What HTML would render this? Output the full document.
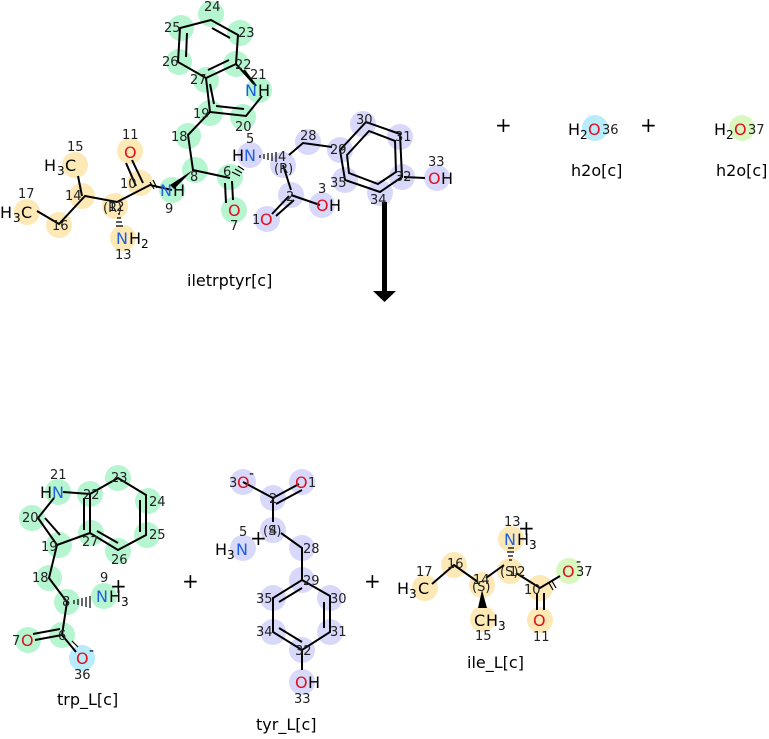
<!DOCTYPE html>
<html><head><meta charset="utf-8"><style>
body{margin:0;background:#fff;width:769px;height:734px;overflow:hidden}
svg{font-family:"DejaVu Sans","Liberation Sans",sans-serif}
.a{font-size:16px}.n{font-size:13px;fill:#222}.l{font-size:16px}
.b{stroke:#000;stroke-width:2;fill:none}
.O{fill:#e0101e}.N{fill:#2060e0}
</style></head><body>
<svg width="769" height="734" viewBox="0 0 769 734">
<g stroke="none">
<g fill="#b5f5d0">
<circle cx="211" cy="14" r="13"/><circle cx="240" cy="33" r="13"/><circle cx="236" cy="64" r="13"/><circle cx="259" cy="90" r="13"/><circle cx="243" cy="117" r="13"/><circle cx="210" cy="113" r="13"/><circle cx="206" cy="80" r="13"/><circle cx="179" cy="62" r="13"/><circle cx="181" cy="28" r="13"/><circle cx="188" cy="136" r="13"/><circle cx="195" cy="170" r="13"/><circle cx="230" cy="177" r="13"/><circle cx="234" cy="210" r="13"/><circle cx="172" cy="190" r="13"/>
</g>
<g fill="#fde9b5">
<circle cx="130" cy="151" r="13"/><circle cx="140" cy="183" r="13"/><circle cx="115" cy="206" r="13"/><circle cx="123" cy="238" r="13"/><circle cx="82" cy="196" r="13"/><circle cx="75" cy="165" r="13"/><circle cx="59" cy="225" r="13"/><circle cx="27" cy="212" r="13"/>
</g>
<g fill="#d8d8fb">
<circle cx="250" cy="155" r="13"/><circle cx="283" cy="165" r="13"/><circle cx="308" cy="142" r="13"/><circle cx="340" cy="150" r="13"/><circle cx="363" cy="124" r="13"/><circle cx="400" cy="137" r="13"/><circle cx="402" cy="177" r="13"/><circle cx="380" cy="193" r="13"/><circle cx="345" cy="180" r="13"/><circle cx="437" cy="178" r="13"/><circle cx="291" cy="195" r="13"/><circle cx="267" cy="219" r="13"/><circle cx="322" cy="205" r="13"/>
</g>
<circle cx="595" cy="128" r="13" fill="#b8ecfb"/><circle cx="742" cy="128" r="13" fill="#d8f8c0"/>
<g fill="#b5f5d0">
<circle cx="58" cy="492" r="13"/><circle cx="90" cy="494" r="13"/><circle cx="118" cy="478" r="13"/><circle cx="148" cy="501" r="13"/><circle cx="147" cy="535" r="13"/><circle cx="118" cy="551" r="13"/><circle cx="91" cy="533" r="13"/><circle cx="32" cy="518" r="13"/><circle cx="59" cy="545" r="13"/><circle cx="49" cy="578" r="13"/><circle cx="67" cy="602" r="13"/><circle cx="104" cy="596" r="13"/><circle cx="62" cy="635" r="13"/><circle cx="28" cy="640" r="13"/>
</g>
<circle cx="82" cy="658" r="13" fill="#b8ecfb"/>
<g fill="#d8d8fb">
<circle cx="243" cy="482" r="13"/><circle cx="302" cy="482" r="13"/><circle cx="273" cy="498" r="13"/><circle cx="273" cy="530" r="13"/><circle cx="243" cy="548" r="13"/><circle cx="302" cy="548" r="13"/><circle cx="302" cy="580" r="13"/><circle cx="330" cy="598" r="13"/><circle cx="330" cy="632" r="13"/><circle cx="302" cy="650" r="13"/><circle cx="273" cy="632" r="13"/><circle cx="273" cy="598" r="13"/><circle cx="302" cy="682" r="13"/>
</g>
<g fill="#fde9b5">
<circle cx="511" cy="539" r="13"/><circle cx="510" cy="571" r="13"/><circle cx="482" cy="585" r="13"/><circle cx="483" cy="619" r="13"/><circle cx="454" cy="565" r="13"/><circle cx="425" cy="588" r="13"/><circle cx="540" cy="588" r="13"/><circle cx="540" cy="620" r="13"/>
</g>
<circle cx="569" cy="571" r="13" fill="#d8f8c0"/>
</g>
<g class="b">
<path d="M211 20 L238 35 L236 64 L206 78 L178 62 L180 28 Z"/>
<path d="M212 28 L230 38 M229 60 L208 70 M186 57 L187 33"/>
<path d="M236 64 L254 84 M244 70 L256 86 M262 96 L246 116 L210 112 L206 78 M214 104 L210 84 M244 109 L216 106"/>
<path d="M210 112 L188 135 L193 170 L230 178 M232 181 L233 200 M225 183 L226 203"/>
<path d="M172 190 L150 185 L117 202 L85 196 L59 224 L37 211 M82 196 L78 176 M143 183 L132 160 M136 186 L126 163"/>
<path d="M283 165 L291 190 M291 195 L320 205 M289 196 L272 214 M294 200 L276 216 M289 155 L303 143 L332 147"/>
<path d="M340 150 L366 122 L400 134 L402 177 L380 192 L345 180 Z M347 155 L369 131 L395 141 L396 172 L378 184 L349 173 Z M404 177 L425 178"/>
</g>
<polygon points="193,170 170,185 174,189" fill="#000"/>
<g stroke="#000" stroke-width="1.2">
<path d="M232 172 L240 176 M235 169 L242 173 M238 166 L244 170 M260 155 L260 158 M264 154 L264 159 M268 153 L268 160 M272 153 L272 161 M276 152 L276 162 M118 214 L120 214 M117 218 L121 218 M116 222 L122 222 M116 226 L123 226 M150 182 L154 189 M153 180 L157 188"/>
</g>
<rect x="382" y="202" width="5" height="90" fill="#000"/>
<polygon points="373,291 396,291 384.5,302" fill="#000"/>
<g class="b">
<path d="M118 478 L146 495 L146 535 L118 550 L90 533 L90 494 Z M104 486 L118 478 M140 500 L140 532 M118 543 L97 531 M84 498 L84 530"/>
<path d="M63 492 L90 494 M54 498 L38 518 L57 545 L90 533 M45 518 L60 535 M57 545 L49 578 L67 602 L62 635 L35 640 M60 629 L33 634 M62 635 L76 652"/>
<path d="M243 482 L273 498 L273 522 M273 498 L299 484 M276 504 L302 490 M281 533 L302 548 L302 580"/>
<path d="M302 580 L330 596 L330 632 L302 650 L273 632 L273 598 Z M324 602 L324 628 M302 642 L279 628 M279 602 L302 588 M302 650 L302 670"/>
<path d="M504 565 L486 578 M478 582 L454 565 L432 584 M516 573 L540 588 L560 576 M537 593 L537 610 M544 593 L544 610"/>
</g>
<polygon points="482,590 478,608 487,608" fill="#000"/>
<g stroke="#000" stroke-width="1.2"><path d="M74 600 L74 604 M78 599 L78 605 M82 598 L82 606 M86 597 L86 607 M90 596 L90 608 M508 548 L514 548 M507 552 L514 552 M508 556 L513 556 M509 560 L512 560 M549 583 L553 590 M552 581 L556 588 M69 644 L75 650 M72 641 L78 647"/></g>
<g class="a">
<text x="160" y="196" class="N">N</text><text x="173" y="196">H</text>
<text x="245" y="96" class="N">N</text><text x="258" y="96">H</text>
<text x="124" y="158" class="O">O</text><text x="228" y="216" class="O">O</text>
<text x="44" y="171">H</text><text x="57" y="175" font-size="12">3</text><text x="65" y="171">C</text>
<text x="0" y="218">H</text><text x="13" y="222" font-size="12">3</text><text x="21" y="218">C</text>
<text x="116" y="244" class="N" fill="#4a5cc0">N</text><text x="129" y="244">H</text><text x="141" y="248" font-size="12">2</text>
<text x="232" y="161">H</text><text x="244" y="161" class="N">N</text>
<text x="260" y="225" class="O">O</text><text x="316" y="211" class="O">O</text><text x="329" y="211">H</text>
<text x="428" y="184" class="O">O</text><text x="441" y="184">H</text>
<text x="568" y="135">H</text><text x="580" y="139" font-size="12">2</text><text x="588" y="135" class="O">O</text>
<text x="714" y="135">H</text><text x="726" y="139" font-size="12">2</text><text x="734" y="135" class="O">O</text>
<text x="40" y="498">H</text><text x="52" y="498" class="N">N</text>
<text x="96" y="602" class="N">N</text><text x="109" y="602">H</text><text x="121" y="606" font-size="12">3</text>
<text x="21" y="646" class="O">O</text><text x="76" y="664" class="O">O</text>
<text x="237" y="488" class="O">O</text><text x="295" y="488" class="O">O</text>
<text x="215" y="555">H</text><text x="227" y="559" font-size="12">3</text><text x="236" y="555" class="N">N</text>
<text x="295" y="688" class="O">O</text><text x="308" y="688">H</text>
<text x="504" y="545" class="N" fill="#4a5cc0">N</text><text x="517" y="545">H</text><text x="529" y="549" font-size="12">3</text>
<text x="397" y="594">H</text><text x="409" y="598" font-size="12">3</text><text x="418" y="594">C</text>
<text x="474" y="626">C</text><text x="486" y="626">H</text><text x="498" y="630" font-size="12">3</text>
<text x="533" y="626" class="O">O</text><text x="562" y="577" class="O">O</text>
</g>
<g font-size="20"><text x="495" y="132">+</text><text x="640" y="132">+</text><text x="182" y="588">+</text><text x="364" y="588">+</text>
<text x="110" y="593">+</text><text x="250" y="545">+</text><text x="518" y="535">+</text></g>
<g font-size="14" fill="#000"><text x="89" y="655">-</text><text x="249" y="478">-</text><text x="576" y="566">-</text></g>
<g class="n">
<text x="204" y="11">24</text><text x="238" y="37">23</text><text x="164" y="32">25</text><text x="162" y="66">26</text><text x="235" y="69">22</text><text x="250" y="79">21</text><text x="190" y="84">27</text><text x="193" y="118">19</text><text x="235" y="131">20</text><text x="171" y="141">18</text><text x="190" y="181">8</text><text x="223" y="176">6</text><text x="230" y="230">7</text><text x="165" y="213">9</text><text x="122" y="139">11</text><text x="120" y="188">10</text><text x="108" y="211">12</text><text x="115" y="259">13</text><text x="67" y="151">15</text><text x="65" y="200">14</text><text x="52" y="230">16</text><text x="18" y="198">17</text>
<text x="246" y="143">5</text><text x="278" y="161">4</text><text x="274" y="173">(R)</text><text x="103" y="212">(R)</text><text x="300" y="140">28</text><text x="330" y="154">29</text><text x="356" y="124">30</text><text x="395" y="141">31</text><text x="395" y="181">32</text><text x="428" y="166">33</text><text x="370" y="204">34</text><text x="330" y="187">35</text><text x="286" y="201">2</text><text x="252" y="224">1</text><text x="318" y="193">3</text>
<text x="602" y="134">36</text><text x="748" y="134">37</text>
<text x="50" y="479">21</text><text x="83" y="499">22</text><text x="111" y="482">23</text><text x="149" y="506">24</text><text x="149" y="539">25</text><text x="111" y="564">26</text><text x="82" y="546">27</text><text x="22" y="522">20</text><text x="41" y="551">19</text><text x="32" y="582">18</text><text x="62" y="606">8</text><text x="100" y="582">9</text><text x="58" y="640">6</text><text x="12" y="645">7</text><text x="74" y="679">36</text>
<text x="229" y="487">3</text><text x="308" y="487">1</text><text x="269" y="503">2</text><text x="239" y="536">5</text><text x="263" y="535">(S)</text><text x="269" y="535">4</text><text x="303" y="553">28</text><text x="303" y="585">29</text><text x="330" y="603">30</text><text x="330" y="636">31</text><text x="295" y="655">32</text><text x="256" y="636">34</text><text x="256" y="603">35</text><text x="294" y="703">33</text>
<text x="504" y="526">13</text><text x="500" y="576">(S)</text><text x="509" y="576">12</text><text x="473" y="584">14</text><text x="472" y="591">(S)</text><text x="475" y="640">15</text><text x="447" y="568">16</text><text x="416" y="576">17</text><text x="524" y="594">10</text><text x="533" y="641">11</text><text x="576" y="576">37</text>
</g>
<g class="l"><text x="187" y="286">iletrptyr[c]</text><text x="571" y="176">h2o[c]</text><text x="716" y="176">h2o[c]</text><text x="57" y="705">trp_L[c]</text><text x="256" y="730">tyr_L[c]</text><text x="467" y="668">ile_L[c]</text></g>
</svg>
</body></html>
